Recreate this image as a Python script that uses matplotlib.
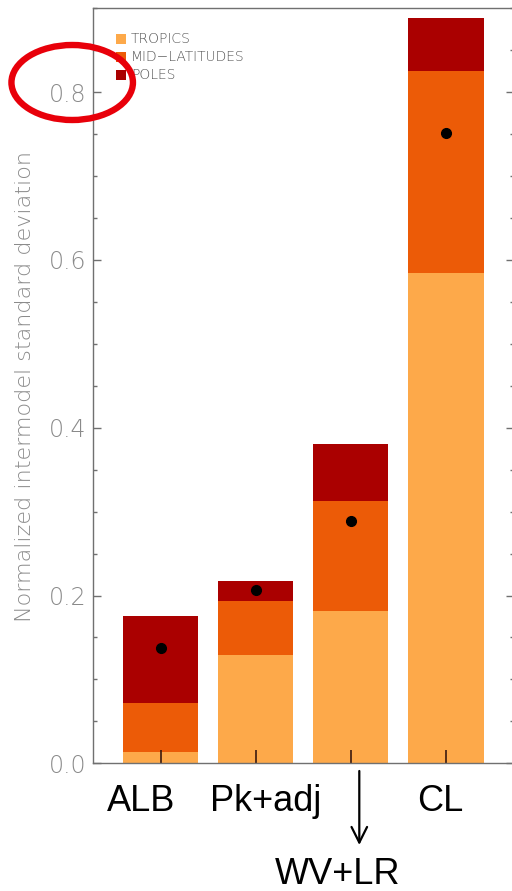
import matplotlib
matplotlib.use("Agg")
import matplotlib.pyplot as plt
from matplotlib.patches import Ellipse
from matplotlib.ticker import MultipleLocator
import numpy as np

categories = ["ALB", "Pk+adj", "WV+LR", "CL"]
tropics = [0.014, 0.129, 0.182, 0.584]
mid_latitudes = [0.058, 0.065, 0.131, 0.241]
poles = [0.104, 0.023, 0.068, 0.063]
total_dots = [0.137, 0.206, 0.289, 0.751]
legend_labels = ["TROPICS", "MID\u2212LATITUDES", "POLES"]
yticks = [0.0, 0.2, 0.4, 0.6, 0.8]

c_trop = "#FDA94A"
c_mid = "#EC5B07"
c_pol = "#AA0000"
colors = [c_trop, c_mid, c_pol]

W, H = 512, 891
dpi = 100
fig = plt.figure(figsize=(W / dpi, H / dpi), dpi=dpi)
ax = fig.add_axes([93.3 / W, (H - 763.3) / H, (513.5 - 93.3) / W, (763.3 - 8.3) / H])

x = np.arange(1, len(categories) + 1)
trop = np.array(tropics)
mid = np.array(mid_latitudes)
pol = np.array(poles)
ax.bar(x, trop, width=0.79, color=c_trop, linewidth=0)
ax.bar(x, mid, width=0.79, bottom=trop, color=c_mid, linewidth=0)
ax.bar(x, pol, width=0.79, bottom=trop + mid, color=c_pol, linewidth=0)
ax.plot(x, total_dots, "o", color="black", markersize=7, linestyle="none")

ax.set_xlim(0.29, 4.71)
ax.set_ylim(0, 0.9)

spine_c = "#707070"
for s in ax.spines.values():
    s.set_color(spine_c)
    s.set_linewidth(1.0)

ax.set_yticks(yticks)
ax.set_yticklabels([f"{v:.1f}" for v in yticks])
ax.yaxis.set_minor_locator(MultipleLocator(0.05))
ax.tick_params(axis="y", which="major", direction="in", length=5.5, width=1,
               color=spine_c, labelcolor="#8a8a8a", labelsize=17, pad=5,
               left=True, right=True)
ax.tick_params(axis="y", which="minor", direction="in", length=3, width=1,
               color=spine_c, left=True, right=True)
for lab in ax.get_yticklabels():
    lab.set_fontweight("light")

ax.set_xticks(x)
ax.set_xticklabels([])
ax.tick_params(axis="x", which="major", direction="in", length=9.5, width=1.2,
               color="#3a1a10", bottom=True, top=False)

fig.text(25 / W, (H - 386.5) / H, "Normalized intermodel standard deviation",
         rotation=90, ha="center", va="center", color="#8a8a8a",
         fontsize=16, fontweight="light")

# category labels
offsets_px = [-20, 10, 0, -6]
for i, cat in enumerate(categories):
    if cat == "WV+LR":
        continue
    ax.annotate(cat, xy=(x[i], 0), xycoords="data",
                xytext=(offsets_px[i] * 0.72, -27.5), textcoords="offset points",
                ha="center", va="center", fontsize=26, family="Liberation Sans",
                color="black")
# WV+LR label with arrow
i = categories.index("WV+LR")
ax.annotate(categories[i], xy=(x[i], 0), xycoords="data",
            xytext=(-13.5 * 0.72, -111 * 0.72), textcoords="offset points",
            ha="center", va="center", fontsize=26, family="Liberation Sans",
            color="black")
ax.annotate("", xy=(359.3, H - 845), xycoords="figure pixels",
            xytext=(359.3, H - 771), textcoords="figure pixels",
            arrowprops=dict(arrowstyle="->", color="black", lw=1.6,
                            mutation_scale=28, shrinkA=0, shrinkB=0))

# legend
leg_y = [0.9590, 0.9355, 0.9118]
for lab, col, yy in zip(legend_labels, colors, leg_y):
    ax.scatter([0.067], [yy], s=52, marker="s", color=col, transform=ax.transAxes,
               clip_on=False, linewidths=0)
    ax.text(0.09, yy, lab, transform=ax.transAxes, fontsize=10, color="#555555",
            va="center", ha="left", fontweight="light")

# red ellipse annotation
ell = Ellipse((72.2 / dpi, (H - 82.5) / dpi), 1.215, 0.75,
              transform=fig.dpi_scale_trans, fill=False, edgecolor="#E8000A",
              linewidth=4.6, clip_on=False)
fig.add_artist(ell)

fig.savefig("out.png", dpi=dpi)
